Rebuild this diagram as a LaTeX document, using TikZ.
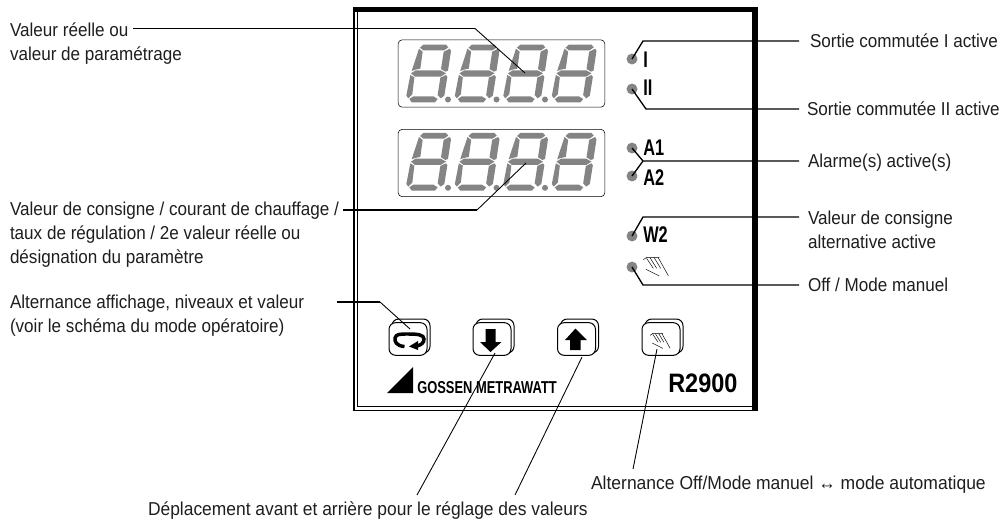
\documentclass[tikz,border=0pt]{standalone}
\usepackage{fontspec}
\setmainfont{Liberation Sans}
\newfontfamily\etiqfont[FakeStretch=0.915]{Liberation Sans}
\newfontfamily\ledfont[FakeStretch=0.72]{Liberation Sans}
\newfontfamily\logofont[FakeStretch=0.75]{Liberation Sans}
\newfontfamily\modelfont[FakeStretch=0.88]{Liberation Sans}
\usetikzlibrary{positioning}
\definecolor{grisSeg}{HTML}{848484}
\definecolor{texteGris}{HTML}{1E1E1E}
\begin{document}
\begin{tikzpicture}[x=0.75pt,y=-0.75pt,
        etiq/.style={inner sep=0pt, outer sep=0pt, align=left, text=texteGris, anchor=base west,
            font=\etiqfont\fontsize{14pt}{18pt}\selectfont},
        ledtxt/.style={inner sep=0pt, anchor=base west, font=\ledfont\bfseries\fontsize{17pt}{18pt}\selectfont},
        led/.style={circle, fill=grisSeg, minimum size=8.2pt, inner sep=0pt},
        affich/.style={draw, line width=0.4pt, rounded corners=3pt, minimum width=155pt, minimum height=50.5pt, inner sep=0pt},
        touche/.style={draw, fill=white, line width=0.75pt, rounded corners=5pt, minimum width=28.5pt, minimum height=24.5pt, inner sep=0pt},
        fond/.style={draw, fill=white, line width=0.75pt, rounded corners=5pt, minimum width=28.5pt, minimum height=25.5pt, inner sep=0pt},
        lead/.style={line width=1pt, line join=miter},
        fin/.style={line width=0.65pt},
        digit/.pic={
            \begin{scope}[scale=1/3, fill=grisSeg]
                \fill (60,38)--(70,29)--(138,29)--(145,37)--(132,46)--(70,46)--cycle;
                \fill (57,41)--(68,50)--(61,101)--(46,104)--(35,108)--cycle;
                \fill (149,41)--(153,48)--(144,107)--(136,110)--(123,102)--(131,50)--cycle;
                \fill (33,115)--(47,106)--(122,106)--(138,115)--(122,125)--(45,125)--cycle;
                \fill (31,120)--(43,127)--(37,178)--(25,190)--(19,182)--cycle;
                \fill (138,120)--(142,126)--(133,182)--(122,190)--(113,180)--(121,128)--cycle;
                \fill (28,192)--(40,184)--(100,184)--(113,192)--(105,202)--(35,202)--cycle;
            \end{scope}
        },
        pointc/.pic={\fill[grisSeg] (48,64.5) circle[radius=3];},
        main/.pic={
            \begin{scope}[scale=1/3, line width=0.35pt]
                \draw (130,179)--(140,172)--(178,172);
                \draw (140,175)--(160,205);
                \draw (150,173)--(170,205);
                \draw (162,172)--(182,205);
                \draw (174,172)--(205,227);
                \draw (138,208)--(178,228);
            \end{scope}
        }
    ]
    \useasboundingbox (0,0) rectangle (1000,519);
    % cadre de l'appareil
    \node[draw, line width=1pt, minimum width=302.25pt, minimum height=302pt, inner sep=0pt] (cadre) at (555.5,209) {};
    \node[draw, line width=1pt, minimum width=296pt, minimum height=297pt, inner sep=0pt] (cadreInt) at (555,208.5) {};
    \fill (354,7.5) rectangle (757,12);
    \fill (752,7.5) rectangle (757,410);
    % afficheurs
    \node[affich] (aff1) at (501.5,73.5) {};
    \node[affich] (aff2) at (501.5,163) {};
    \foreach \i in {0,1,2,3} {
        \pic at (400+48.5*\i,35) {digit};
        \pic at (400+48.5*\i,123.3) {digit};
    }
    \foreach \i in {0,1,2} {
        \pic at (400+48.5*\i,35) {pointc};
        \pic at (400+48.5*\i,123.3) {pointc};
    }
    % voyants
    \node[led] (ledI) at (632,59) {};
    \node[led] (ledII) at (632,89) {};
    \node[led] (ledAa) at (632,148) {};
    \node[led] (ledAb) at (632,176) {};
    \node[led] (ledW) at (632,236) {};
    \node[led] (ledM) at (632,267) {};
    \node[ledtxt] (txtI) at (643,67) {I};
    \node[ledtxt] (txtII) at (643,95) {II};
    \node[ledtxt] (txtAa) at (643,155) {A1};
    \node[ledtxt] (txtAb) at (643,185) {A2};
    \node[ledtxt] (txtW) at (643,242) {W2};
    \pic at (600,200) {main};
    % touches
    \node[fond] (fondRing) at (411,336) {};
    \node[touche] (btnRing) at (408,339) {};
    \node[fond] (fondDown) at (495,336) {};
    \node[touche] (btnDown) at (492,339) {};
    \node[fond] (fondUp) at (579.5,336) {};
    \node[touche] (btnUp) at (576.5,339) {};
    \node[fond] (fondMain) at (664,336) {};
    \node[touche] (btnMain) at (661,339) {};
    \draw[line width=2.6pt] (404.5,346.5) .. controls (396,346) and (394.5,341) .. (395,338) .. controls (396,334) and (400,334) .. (408,334) .. controls (417,334) and (424,334.5) .. (424,339) .. controls (424,343) and (421,345) .. (417,346);
    \fill (418,341) -- (418,350) -- (409,346.5) -- cycle;
    \fill (485.5,329)--(495.5,329)--(495.5,342)--(501.5,342)--(490.5,352)--(480,342)--(485.5,342)--cycle;
    \fill (570,350)--(580.5,350)--(580.5,340)--(587,340)--(575.5,328.5)--(565,340)--(570,340)--cycle;
    \pic[shift={(615.4,287.6)},scale=0.8] {main};
    % logo
    \fill (387,393) -- (413,367) -- (413,393) -- cycle;
    \node[inner sep=0pt, anchor=base west, font=\logofont\bfseries\fontsize{12.9pt}{14pt}\selectfont] (logo) at (417,393) {GOSSEN METRAWATT};
    \node[inner sep=0pt, anchor=base west, font=\modelfont\bfseries\fontsize{20pt}{22pt}\selectfont] (modele) at (668,392) {R2900};
    % textes
    \node[etiq] (valReel) at (10,60) {Valeur réelle ou\\valeur de paramétrage};
    \node[etiq] (valCons) at (10,263) {Valeur de consigne / courant de chauffage /\\taux de régulation / 2e valeur réelle ou\\désignation du paramètre};
    \node[etiq] (altAff) at (10,332) {Alternance affichage, niveaux et valeur\\(voir le schéma du mode opératoire)};
    \node[etiq] (sortI) at (810,47) {Sortie commutée I active};
    \node[etiq] (sortII) at (807,115) {Sortie commutée II active};
    \node[etiq] (alarme) at (808,167) {Alarme(s) active(s)};
    \node[etiq] (consAlt) at (808,248) {Valeur de consigne\\alternative active};
    \node[etiq] (offMan) at (808,291) {Off / Mode manuel};
    \node[etiq, xscale=1.025] (altOff) at (591,489) {Alternance Off/Mode manuel ↔ mode automatique};
    \node[etiq, xscale=1.02] (depl) at (148,515) {Déplacement avant et arrière pour le réglage des valeurs};
    % points des renvois
    \coordinate (d1) at (133,28.5);
    \coordinate (k1) at (475,28.5);
    \coordinate (s1) at (525,73);
    \coordinate (d2) at (343,210);
    \coordinate (k2) at (477,210);
    \coordinate (s2) at (526,163);
    \coordinate (d3) at (337,302);
    \coordinate (k3) at (380,302);
    \coordinate (s3) at (410,329);
    \coordinate (fI) at (799,41);
    \coordinate (kI) at (643,41);
    \coordinate (fII) at (799,109);
    \coordinate (kII) at (646,109);
    \coordinate (fA) at (799,161);
    \coordinate (kA) at (643,161);
    \coordinate (fW) at (799,217);
    \coordinate (kW) at (643,217);
    \coordinate (fM) at (799,285);
    \coordinate (kM) at (643,285);
    \coordinate (bDown) at (495,353);
    \coordinate (eDown) at (417,495);
    \coordinate (bUp) at (582,357);
    \coordinate (eUp) at (515,495);
    \coordinate (bMain) at (657,349);
    \coordinate (eMain) at (633,469);
    \draw[lead] (d1) -- (k1); \draw[fin] (k1) -- (s1);
    \draw[lead] (d2) -- (k2); \draw[fin] (k2) -- (s2);
    \draw[lead] (d3) -- (k3); \draw[fin] (k3) -- (s3);
    \draw[lead] (ledI.center) -- (kI) -- (fI);
    \draw[lead] (ledII.center) -- (kII) -- (fII);
    \draw[lead] (ledAa.center) -- (kA) -- (fA);
    \draw[lead] (ledAb.center) -- (kA);
    \draw[lead] (ledW.center) -- (kW) -- (fW);
    \draw[lead] (ledM.center) -- (kM) -- (fM);
    \draw[fin] (bDown) -- (eDown);
    \draw[fin] (bUp) -- (eUp);
    \draw[fin] (bMain) -- (eMain);
\end{tikzpicture}
\end{document}
